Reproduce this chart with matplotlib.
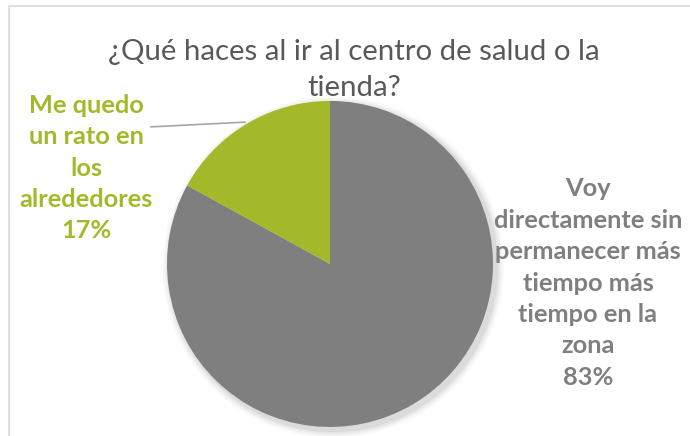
import matplotlib.pyplot as plt

title = "¿Qué haces al ir al centro de salud o la\ntienda?"
categories = ["Voy\ndirectamente sin\npermanecer más\ntiempo más\ntiempo en la\nzona",
              "Me quedo\nun rato en\nlos\nalrededores"]
values = [83, 17]
colors = ["#7f7f7f", "#a5b82a"]
label_colors = ["#7f7f7f", "#a5b82a"]

fig = plt.figure(figsize=(6.9, 4.36), dpi=100)
fig.patch.set_facecolor("white")

# light frame like the spreadsheet chart area
fig.add_artist(plt.Rectangle((9 / 690, -0.05), 1.1, 1 - 6 / 436 + 0.05,
                             transform=fig.transFigure, fill=False,
                             edgecolor="#d9d9d9", linewidth=1.2))

ax = fig.add_axes([0.242, 0.0206, 0.4725, 0.748])

# soft shadow
for i, a in enumerate([0.05, 0.04, 0.03, 0.02]):
    ax.pie([1], radius=1.0 + 0.012 * (i + 1), colors=["black"],
           center=(0.02, -0.02),
           wedgeprops=dict(alpha=a, linewidth=0))

wedges, _ = ax.pie(values, colors=colors, startangle=90, counterclock=False,
                   wedgeprops=dict(linewidth=0))
ax.set_xlim(-1, 1)
ax.set_ylim(-1, 1)
ax.set_aspect("equal")
ax.axis("off")

fig.text(354 / 690, 1 - 70 / 436, title, ha="center", va="center",
         fontsize=21.2, color="#595959", family=["Lato", "DejaVu Sans"],
         linespacing=1.44)

lab0 = f"{categories[0]}\n{values[0]}%"
lab1 = f"{categories[1]}\n{values[1]}%"
fig.text(588 / 690, 1 - 283 / 436, lab0, ha="center", va="center",
         fontsize=18.3, fontweight="bold", color=label_colors[0],
         family=["Lato", "DejaVu Sans"], linespacing=1.44)
fig.text(86 / 690, 1 - 168 / 436, lab1, ha="center", va="center",
         fontsize=18.3, fontweight="bold", color=label_colors[1],
         family=["Lato", "DejaVu Sans"], linespacing=1.44)

ax.annotate("", xy=(-0.503, 0.871), xytext=(-1.117, 0.840),
            arrowprops=dict(arrowstyle="-", color="#a6a6a6", linewidth=1.2),
            annotation_clip=False)

fig.savefig("out.png", dpi=100)
